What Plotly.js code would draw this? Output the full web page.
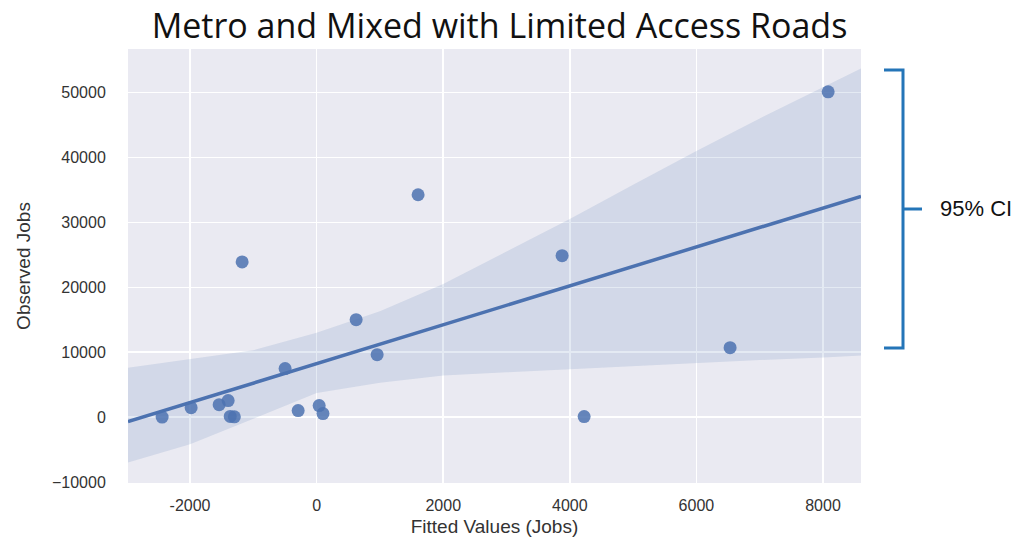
<!DOCTYPE html>
<html>
<head>
<meta charset="utf-8">
<script src="https://cdn.plot.ly/plotly-3.0.1.min.js"></script>
<style>html,body{margin:0;padding:0;background:#fff;}#chart{width:1026px;height:540px;}</style>
</head>
<body>
<div id="chart"></div>
<script>
// Scatter points: fitted values (x) vs observed jobs (y)
var fittedValues = [-2441, -1983, -1540, -1398, -1365, -1300, -1177, -498, -292, 40, 100, 624, 956, 1603, 3878, 4226, 6532, 8081];
var observedJobs = [0, 1460, 1920, 2540, 100, 50, 23900, 7470, 1000, 1770, 540, 15000, 9620, 34250, 24860, 80, 10700, 50100];

// Regression line
var fitLineX = [-2980, 8600];
var fitLineY = [-700, 34000];

// 95% confidence band
var bandX     = [-2980, -2000, -1000, 0, 1000, 2000, 3000, 4000, 5000, 6000, 7000, 8000, 8600];
var bandUpper = [7600, 8900, 10300, 13000, 16300, 20500, 25500, 30500, 35800, 41000, 46000, 50800, 53700];
var bandLower = [-7000, -4200, -250, 3700, 5300, 6400, 6900, 7400, 7800, 8300, 8800, 9200, 9500];

var xTicks = [-2000, 0, 2000, 4000, 6000, 8000];
var yTicks = [-10000, 0, 10000, 20000, 30000, 40000, 50000];

var blue = '#4C72B0';

var traces = [
  {x: bandX, y: bandLower, type: 'scatter', mode: 'lines', line: {width: 0, color: 'rgba(0,0,0,0)'}, hoverinfo: 'skip', showlegend: false},
  {x: bandX, y: bandUpper, type: 'scatter', mode: 'lines', line: {width: 0, color: 'rgba(0,0,0,0)'}, fill: 'tonexty', fillcolor: 'rgba(76,114,176,0.15)', hoverinfo: 'skip', showlegend: false},
  {x: fitLineX, y: fitLineY, type: 'scatter', mode: 'lines', line: {color: blue, width: 3.5}, showlegend: false},
  {x: fittedValues, y: observedJobs, type: 'scatter', mode: 'markers', marker: {color: blue, size: 13, opacity: 0.85}, showlegend: false}
];

var px = function (p) { return (p - 128) / 733; };
var py = function (p) { return (483 - p) / 434; };
var bc = '#2475B8';

var layout = {
  width: 1026, height: 540,
  paper_bgcolor: '#ffffff',
  plot_bgcolor: '#EAEAF2',
  margin: {l: 128, r: 165, t: 49, b: 57},
  font: {family: '"Liberation Sans", Arial, sans-serif', color: '#333'},
  title: {
    text: 'Metro and Mixed with Limited Access Roads',
    font: {family: '"Open Sans", "Noto Sans", sans-serif', size: 34, color: '#111'},
    x: 520 / 1026, xanchor: 'center', xref: 'paper',
    y: 1 - 26 / 540, yanchor: 'middle', yref: 'container'
  },
  xaxis: {
    range: [-2980, 8600],
    tickvals: xTicks,
    ticktext: xTicks.map(String),
    showgrid: true, gridcolor: '#ffffff', gridwidth: 1.5,
    zeroline: false, showline: false,
    ticks: 'outside', ticklen: 8, tickcolor: 'rgba(0,0,0,0)',
    tickfont: {size: 16, color: '#333'},
    title: {text: 'Fitted Values (Jobs)', font: {size: 19, color: '#333'}, standoff: 6}
  },
  yaxis: {
    range: [-10150, 56700],
    tickvals: yTicks,
    ticktext: yTicks.map(function (v) { return v < 0 ? '\u2212' + Math.abs(v) : String(v); }),
    showgrid: true, gridcolor: '#ffffff', gridwidth: 1.5,
    zeroline: false, showline: false,
    ticks: 'outside', ticklen: 18, tickcolor: 'rgba(0,0,0,0)',
    tickfont: {size: 16, color: '#333'},
    title: {text: 'Observed Jobs', font: {size: 19, color: '#333'}, standoff: 16}
  },
  shapes: [
    {type: 'path', xref: 'paper', yref: 'paper',
     path: 'M ' + px(884) + ' ' + py(70) + ' L ' + px(903) + ' ' + py(70) + ' L ' + px(903) + ' ' + py(348) + ' L ' + px(884) + ' ' + py(348),
     line: {color: bc, width: 3}},
    {type: 'line', xref: 'paper', yref: 'paper', x0: px(903), x1: px(922), y0: py(209), y1: py(209),
     line: {color: bc, width: 3}}
  ],
  annotations: [
    {text: '95% CI', xref: 'paper', yref: 'paper', x: px(938), y: py(209), xanchor: 'left', yanchor: 'middle',
     showarrow: false, font: {size: 22, color: '#111', family: '"Liberation Sans", Arial, sans-serif'}}
  ]
};

Plotly.newPlot('chart', traces, layout, {displayModeBar: false, staticPlot: true});
</script>
</body>
</html>
